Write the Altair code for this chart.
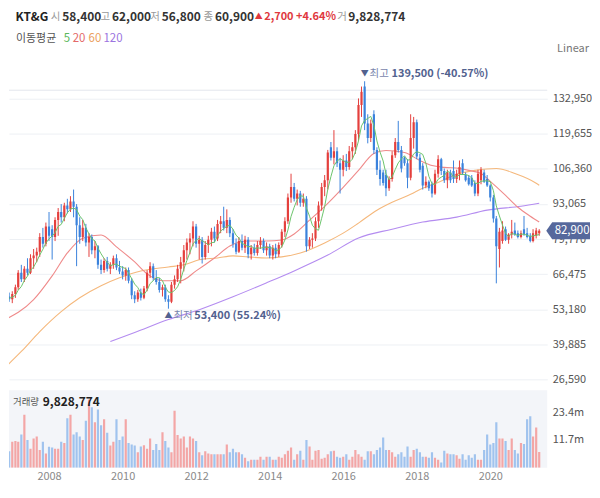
import altair as alt
import numpy as np
import pandas as pd

FONT = "Noto Sans CJK KR"
RED, BLUE = "#e4403d", "#3a82dc"
VRED, VBLUE = "#f3a6a6", "#a0c3ee"

# ---- monthly candles (thousand KRW), Oct 2006 .. May 2021
opens = [
    55.5, 60.0, 58.0,
    57.0, 59.0, 61.5, 67.0, 64.5, 68.5, 67.0, 72.5, 73.5, 75.0, 80.5, 78.0,
    84.5, 83.5, 80.5, 87.0, 90.0, 88.0, 92.5, 91.0, 94.0, 92.0, 85.0, 80.5,
    84.0, 78.5, 80.5, 75.5, 77.0, 70.0, 68.0, 71.5, 68.5, 70.0, 72.5, 69.0,
    67.5, 66.0, 68.0, 64.0, 58.5, 57.0, 59.5, 57.5, 61.0, 67.0, 69.5, 65.0,
    63.5, 60.5, 61.5, 57.0, 56.0, 62.5, 64.5, 68.5, 71.0, 75.5, 78.5, 80.0,
    84.5, 78.0, 79.5, 73.0, 77.5, 79.5, 82.5, 80.0, 85.5, 86.5, 84.0, 87.0,
    82.0, 78.0, 75.0, 79.0, 76.5, 79.5, 74.0, 76.5, 74.5, 77.5, 79.0, 75.5,
    77.0, 73.5, 76.5, 74.0, 77.5, 82.5, 86.5, 95.5, 99.5, 95.0, 97.0, 93.5,
    95.0, 77.0, 79.5, 80.0, 86.5, 92.5, 99.5, 102.0, 114.5, 110.5, 113.0, 108.5,
    106.0, 109.5, 107.0, 113.0, 114.5, 119.5, 130.5, 137.5, 123.5, 118.0, 127.0, 113.5,
    106.0, 105.0, 104.0, 99.0, 102.5, 111.5, 116.5, 113.5, 110.5, 108.5, 103.0, 118.0,
    124.0, 110.5, 107.5, 100.0, 101.5, 100.5, 97.0, 104.5, 110.0, 105.5, 102.0, 105.0,
    105.5, 102.5, 104.5, 108.5, 104.0, 103.0, 103.0, 101.0, 97.0, 102.0, 105.0, 102.5,
    100.0, 95.5, 87.5, 76.0, 79.0, 83.5, 79.5, 81.5, 83.0, 82.0, 80.5, 83.5,
    82.0, 81.0, 79.0, 81.0, 82.0,
]
highs = [
    58.5, 61.5, 59.5,
    60.0, 62.5, 68.0, 70.0, 69.5, 72.5, 74.0, 76.0, 76.5, 82.0, 84.0, 86.0,
    90.0, 85.0, 88.0, 91.5, 93.0, 93.5, 95.0, 96.0, 98.5, 93.0, 88.0, 87.0,
    85.5, 82.0, 81.5, 79.0, 77.5, 72.0, 72.5, 73.0, 71.0, 73.5, 74.0, 71.5,
    69.5, 69.0, 69.0, 65.0, 60.0, 60.5, 61.0, 62.0, 68.0, 71.0, 70.5, 68.0,
    65.0, 62.5, 62.5, 58.5, 63.5, 66.0, 70.0, 73.0, 77.5, 80.0, 82.0, 86.5,
    85.5, 81.0, 80.5, 79.0, 81.0, 84.0, 84.5, 87.0, 88.5, 92.0, 91.0, 88.0,
    83.5, 80.0, 80.5, 81.5, 81.0, 80.5, 77.5, 78.0, 79.0, 80.5, 80.0, 78.5,
    78.0, 77.5, 78.0, 78.5, 83.5, 88.0, 97.0, 104.5, 101.0, 98.5, 98.0, 97.0,
    96.0, 80.5, 82.0, 88.0, 94.0, 101.0, 104.0, 113.5, 116.5, 121.0, 114.5, 110.5,
    111.5, 112.0, 115.0, 116.5, 121.0, 133.0, 137.5, 139.5, 127.0, 125.0, 128.5, 114.5,
    109.5, 106.0, 106.0, 103.5, 113.0, 118.0, 124.5, 115.0, 111.0, 110.0, 127.0, 126.0,
    125.0, 112.0, 108.5, 103.5, 102.0, 101.5, 106.0, 111.5, 110.5, 106.5, 106.0, 106.0,
    109.5, 106.0, 109.5, 110.0, 105.0, 104.0, 104.0, 102.0, 106.0, 107.0, 106.0, 104.0,
    100.5, 96.5, 88.5, 84.0, 86.5, 84.5, 82.0, 87.0, 86.0, 83.0, 83.0, 88.5,
    84.0, 82.0, 83.5, 84.0, 83.5,
]
lows = [
    55.0, 56.5, 56.0,
    55.5, 57.5, 60.5, 63.5, 63.5, 66.0, 66.5, 68.5, 71.0, 73.0, 76.5, 77.0,
    79.0, 72.0, 79.0, 81.0, 86.0, 86.5, 89.5, 90.0, 88.0, 69.5, 78.0, 79.0,
    77.0, 73.0, 74.0, 72.5, 68.5, 66.5, 67.0, 67.5, 66.5, 68.5, 68.0, 66.5,
    64.5, 64.0, 63.0, 57.0, 55.5, 56.0, 56.5, 57.0, 60.0, 65.0, 64.0, 62.5,
    59.5, 58.0, 56.0, 53.4, 55.5, 61.0, 63.5, 63.0, 67.5, 72.0, 74.0, 77.0,
    76.5, 72.0, 70.5, 72.0, 74.5, 77.0, 78.5, 79.0, 82.0, 83.0, 82.0, 80.5,
    76.5, 74.0, 74.5, 75.5, 74.5, 72.5, 72.0, 73.5, 73.5, 76.0, 74.5, 73.5,
    72.5, 72.0, 72.5, 73.0, 76.5, 80.5, 85.5, 93.5, 94.0, 92.5, 92.0, 92.0,
    75.0, 76.0, 76.5, 79.0, 84.0, 90.5, 96.0, 98.5, 109.5, 108.0, 107.0, 97.0,
    103.5, 105.5, 106.0, 110.0, 112.0, 117.0, 126.0, 121.0, 116.0, 116.5, 112.0, 104.0,
    100.0, 100.0, 96.0, 98.0, 101.5, 110.5, 112.5, 105.0, 107.5, 99.0, 102.0, 114.0,
    110.0, 105.0, 98.5, 99.0, 98.0, 95.5, 96.5, 103.0, 104.0, 101.0, 99.0, 101.0,
    101.0, 101.0, 102.0, 104.0, 101.5, 100.0, 99.5, 96.0, 96.0, 100.5, 101.0, 99.5,
    94.0, 86.0, 63.0, 69.0, 78.0, 79.0, 78.0, 80.0, 81.0, 80.0, 80.0, 81.0,
    80.0, 78.5, 78.5, 80.0, 81.0,
]
closes = [
    57.5, 57.5, 57.0,
    59.0, 61.5, 67.0, 64.5, 68.5, 67.0, 72.5, 73.5, 75.0, 80.5, 78.0, 84.5,
    81.0, 80.5, 87.0, 90.0, 88.0, 92.5, 91.0, 94.0, 92.0, 85.0, 80.5, 84.0,
    78.5, 80.5, 75.5, 77.0, 70.0, 68.0, 71.5, 68.5, 70.0, 72.5, 69.0, 67.5,
    66.0, 68.0, 64.0, 58.5, 57.0, 59.5, 57.5, 61.0, 67.0, 69.5, 65.0, 63.5,
    60.5, 61.5, 57.0, 56.0, 62.5, 64.5, 68.5, 71.0, 75.5, 78.5, 80.0, 84.5,
    78.0, 79.5, 73.0, 77.5, 79.5, 82.5, 80.0, 85.5, 86.5, 84.0, 87.0, 82.0,
    78.0, 75.0, 79.0, 76.5, 79.5, 74.0, 76.5, 74.5, 77.5, 79.0, 75.5, 77.0,
    73.5, 76.5, 74.0, 77.5, 82.5, 86.5, 95.5, 99.5, 95.0, 97.0, 93.5, 95.0,
    77.0, 79.5, 80.0, 86.5, 92.5, 99.5, 102.0, 112.5, 110.5, 113.0, 108.5, 106.0,
    109.5, 107.0, 113.0, 114.5, 119.5, 130.5, 135.5, 123.5, 118.0, 123.5, 113.5, 106.0,
    102.5, 101.0, 99.0, 102.5, 111.5, 116.5, 113.5, 106.5, 108.5, 103.0, 118.0, 124.0,
    111.0, 106.0, 100.0, 101.5, 99.0, 97.0, 104.5, 110.0, 105.5, 102.0, 105.0, 102.0,
    102.5, 104.5, 107.0, 105.0, 102.0, 100.5, 100.0, 97.0, 104.5, 106.0, 101.5, 100.0,
    95.5, 87.5, 77.0, 82.5, 83.0, 79.5, 81.5, 82.5, 81.5, 80.5, 82.0, 81.5,
    80.5, 79.0, 82.0, 83.0, 82.9,
]
# monthly volume, millions of shares
volumes_m = [
    22.6, 11.0, 7.0,
    11.0, 11.3, 11.0, 14.0, 22.3, 11.7, 8.0, 12.3, 13.2, 7.5, 11.0, 6.0,
    8.9, 8.5, 8.0, 8.0, 11.0, 10.4, 20.8, 22.3, 14.0, 15.0, 13.2, 11.7,
    19.8, 28.7, 25.5, 19.2, 24.5, 17.9, 20.4, 14.7, 9.4, 11.0, 20.4, 11.7,
    13.2, 20.4, 10.4, 9.8, 9.4, 6.6, 9.0, 9.5, 8.0, 12.3, 7.5, 10.0,
    7.5, 15.0, 11.3, 8.5, 6.6, 24.0, 13.8, 12.3, 13.2, 8.5, 13.2, 12.3,
    11.3, 6.6, 5.3, 7.0, 6.0, 5.7, 5.7, 5.7, 5.7, 5.7, 9.8, 6.6,
    8.0, 6.6, 6.6, 5.7, 4.2, 2.8, 3.4, 3.4, 3.4, 4.7, 3.4, 4.7,
    4.7, 3.4, 3.4, 4.7, 4.2, 5.7, 7.2, 8.5, 3.4, 5.7, 7.2, 3.4,
    11.7, 9.0, 3.4, 7.2, 7.5, 3.8, 4.2, 5.7, 7.0, 7.2, 4.7, 4.2,
    4.7, 5.7, 3.4, 4.7, 7.5, 5.7, 4.7, 3.4, 7.0, 7.0, 5.7, 7.5,
    8.5, 12.8, 7.5, 7.5, 6.6, 4.7, 5.7, 6.6, 4.7, 9.0, 4.7, 7.5,
    8.0, 6.6, 4.7, 4.7, 4.2, 6.6, 4.2, 3.4, 2.3, 7.2, 6.0, 5.7,
    5.7, 5.3, 3.8, 5.7, 3.4, 5.3, 4.2, 5.7, 3.4, 3.4, 7.5, 14.0,
    9.8, 10.4, 19.2, 12.3, 12.3, 11.3, 7.5, 12.3, 7.5, 6.0, 10.4, 10.0,
    20.4, 21.7, 13.2, 17.0, 6.7,
]

# ---- moving averages (KRW)
ma20_months = ["2006-10", "2007-08", "2008-02", "2008-07", "2008-12", "2009-06", "2009-11",
               "2010-05", "2010-09", "2011-02", "2011-08", "2012-01", "2012-07", "2012-12",
               "2013-06", "2013-12", "2014-05", "2014-09", "2015-02", "2015-08", "2016-01",
               "2016-06", "2016-11", "2017-03", "2017-09", "2018-02", "2018-06", "2018-10",
               "2019-03", "2019-06", "2019-10", "2020-01", "2020-06", "2020-10", "2021-02", "2021-05"]
ma20_values = [48900, 56800, 65800, 74500, 80100, 81300, 76800,
               71100, 66600, 64000, 64000, 67700, 72600, 77100,
               79000, 79000, 79400, 81700, 86900, 93300, 99350,
               105750, 112150, 113300, 112500, 109500, 107600, 106900,
               106500, 105750, 104600, 101600, 96300, 91800, 88400, 86200]
ma60_months = ["2006-10", "2007-04", "2007-10", "2008-05", "2008-11", "2009-06", "2009-12",
               "2010-07", "2011-04", "2011-09", "2012-02", "2012-08", "2013-01", "2013-06",
               "2013-12", "2014-05", "2014-11", "2015-07", "2016-01", "2016-06", "2016-12",
               "2017-05", "2017-11", "2018-03", "2018-08", "2019-02", "2019-08", "2020-03",
               "2020-09", "2021-04", "2021-05"]
ma60_values = [30400, 37200, 44750, 52300, 57550, 62100, 65100,
               67700, 69200, 70000, 71900, 72600, 73400, 73000,
               72600, 73000, 74500, 78300, 82000, 85800, 90700,
               93700, 96700, 99000, 101200, 104250, 105750, 106500,
               104600, 100900, 100100]
ma120_months = ["2009-09", "2010-05", "2011-04", "2012-02", "2013-01", "2013-12", "2014-09",
                "2015-08", "2016-06", "2017-05", "2018-03", "2019-02", "2019-12", "2020-11", "2021-05"]
ma120_values = [41000, 44400, 49300, 53000, 57900, 63200, 67700,
                73700, 80150, 83500, 86200, 88050, 90700, 92200, 93300]

y_ticks = [26590, 39885, 53180, 66475, 79770, 93065, 106360, 119655, 132950]
vol_ticks_m = [11.7, 23.4]
year_ticks = [2008, 2010, 2012, 2014, 2016, 2018, 2020]
last_price = 82900

# ---- frames
months = pd.date_range("2006-10-01", periods=len(closes), freq="MS")
df = pd.DataFrame({
    "date": months.strftime("%Y-%m-%d"),
    "open": np.round(np.array(opens) * 1000),
    "high": np.round(np.array(highs) * 1000),
    "low": np.round(np.array(lows) * 1000),
    "close": np.round(np.array(closes) * 1000),
    "vol": np.array(volumes_m) * 1e6,
})
df["dir"] = np.where(df["close"] >= df["open"], "up", "down")
df["vdir"] = df["dir"]
df["ma5"] = df["close"].rolling(5, min_periods=1).mean()


def ma_frame(ms_, vals):
    return pd.DataFrame({"date": [m + "-01" for m in ms_], "v": vals})


def ms(ts):
    return int(pd.Timestamp(ts).tz_localize("UTC").timestamp() * 1000)


W, HP, HV = 541, 331, 78
PX_PER_VAL = 1 / 376.63          # pixels per won on the price axis
PX_PER_M = 28 / 11.7             # pixels per million shares
PX_PER_DAY = 3.08 / 30.4375
x0 = pd.Timestamp("2006-12-01") - pd.Timedelta(days=1.6)
x1 = x0 + pd.Timedelta(days=W / PX_PER_DAY)
x_scale = alt.Scale(type="utc", domain=[ms(x0), ms(x1)])
px = alt.X("date:T", scale=x_scale, axis=None)
ref_val, ref_px = 79770, 181       # 79,770 gridline sits 181px below the plot top
py_top = ref_val + ref_px / PX_PER_VAL
py_bot = ref_val - (HP - ref_px) / PX_PER_VAL
py_scale = alt.Scale(domain=[py_bot, py_top], nice=False, zero=False)

price_axis = alt.Axis(orient="right", values=y_ticks, labelExpr="format(datum.value, ',')",
                      ticks=False, domain=False, grid=True, gridColor="#edf0f4",
                      labelColor="#555", labelFontSize=11, labelPadding=5, title=None)
cenc = alt.Color("dir:N", scale=alt.Scale(domain=["up", "down"], range=[RED, BLUE]), legend=None)


def Y(field):
    return alt.Y(field, scale=py_scale, axis=price_axis, title=None)


def label(text, x, y, color, size=12, weight="normal", align="left"):
    return alt.Chart(pd.DataFrame({"t": [text]})).mark_text(
        align=align, baseline="middle", fontSize=size, fontWeight=weight, color=color
    ).encode(x=alt.value(x), y=alt.value(y), text="t:N")


# invisible spacer that reserves the header band above the price pane
spacer = alt.Chart(pd.DataFrame({"a": [0]})).mark_rule(opacity=0, strokeWidth=0.5).encode(
    x=alt.value(0), x2=alt.value(10), y=alt.value(-50))

top_rule = alt.Chart(pd.DataFrame({"v": [136100]})).mark_rule(color="#e3e6ec").encode(y=Y("v:Q"))
wick = alt.Chart(df).mark_rule(strokeWidth=1, clip=True).encode(
    x=px, y=Y("low:Q"), y2="high:Q", color=cenc)
body = alt.Chart(df).mark_rule(strokeWidth=2.2, clip=True).encode(
    x=px, y=Y("open:Q"), y2="close:Q", color=cenc)


def ma_line(frame, colr):
    return alt.Chart(frame).mark_line(color=colr, strokeWidth=1.1, clip=True,
                                      interpolate="monotone").encode(x=px, y=Y("v:Q"))


ma5 = alt.Chart(df).mark_line(color="#6cc46c", strokeWidth=1, clip=True).encode(x=px, y=Y("ma5:Q"))
ma20 = ma_line(ma_frame(ma20_months, ma20_values), "#ef8a8a")
ma60 = ma_line(ma_frame(ma60_months, ma60_values), "#f5b87c")
ma120 = ma_line(ma_frame(ma120_months, ma120_values), "#b48cf0")

hi = df.loc[df["high"].idxmax()]
lo = df.loc[df["low"].idxmin()]
hi_df = pd.DataFrame({"date": [hi["date"]], "v": [hi["high"]],
                      "n": [f"{int(hi['high']):,} ({(last_price - hi['high']) / hi['high'] * 100:.2f}%)"]})
lo_df = pd.DataFrame({"date": [lo["date"]], "v": [lo["low"]],
                      "n": [f"{int(lo['low']):,} ({(last_price - lo['low']) / lo['low'] * 100:.2f}%)"]})
SLATE, SLATE2 = "#7a86ad", "#52628f"


def ann(frame, text, dx, dy, colr, size, weight="normal", align="left", field=False):
    m = alt.Chart(frame).mark_text(align=align, baseline="middle", dx=dx, dy=dy, color=colr,
                                   fontSize=size, fontWeight=weight)
    return m.encode(x=px, y=Y("v:Q"), text=("n:N" if field else alt.value(text)))


ann_layers = [
    ann(hi_df, "▼", 0, -7, SLATE2, 8, align="center"),
    ann(hi_df, "최고", 5, -7, SLATE, 10.5),
    ann(hi_df, "", 27, -7, SLATE2, 11, "bold", field=True),
    ann(lo_df, "▲", 0, 7, SLATE2, 8, align="center"),
    ann(lo_df, "최저", 5, 7, SLATE, 10.5),
    ann(lo_df, "", 26, 7, SLATE2, 11, "bold", field=True),
]

# current-price tag: a left-pointing label box (path units = 10px at size 400)
TAG_PATH = "M-2.2,0L-1.6,-0.85L2.2,-0.85L2.2,0.85L-1.6,0.85Z"
tag_df = pd.DataFrame({"v": [last_price], "t": [f"{last_price:,}"]})
tag = alt.Chart(tag_df).mark_point(shape=TAG_PATH, size=400, filled=True, color="#56689c",
                                   opacity=1, strokeWidth=0).encode(x=alt.value(W + 21), y=Y("v:Q"))
tag_txt = alt.Chart(tag_df).mark_text(color="white", fontSize=11.5, align="center",
                                      baseline="middle").encode(x=alt.value(W + 25), y=Y("v:Q"), text="t:N")

GR, DK, RD = "#9a9a9a", "#333333", "#e0393e"
R1, R2 = -42, -20
header = [
    label("KT&G", 6.6, R1, "#222222", 12, "bold"),
    label("시", 42, R1, GR, 10.5), label("58,400", 53.5, R1, DK, 12, "bold"),
    label("고", 92, R1, GR, 10.5), label("62,000", 103.5, R1, DK, 12, "bold"),
    label("저", 142, R1, GR, 10.5), label("56,800", 153.5, R1, DK, 12, "bold"),
    label("종", 195.5, R1, GR, 10.5), label("60,900", 207, R1, DK, 12, "bold"),
    label("▲", 247, R1, RD, 8), label("2,700 +4.64%", 256.5, R1, RD, 11, "bold"),
    label("거", 330, R1, GR, 10.5), label("9,828,774", 341, R1, DK, 12, "bold"),
    label("이동평균", 7, R2, "#555555", 11),
    label("5", 55, R2, "#5cb85c", 11.5), label("20", 64, R2, "#e46a6a", 11.5),
    label("60", 80, R2, "#eba060", 11.5), label("120", 95, R2, "#9c74e0", 11.5),
    label("Linear", W + 42, -10, "#777777", 11, align="right"),
]

price = alt.layer(spacer, top_rule, ma120, ma60, ma20, wick, body, ma5, *ann_layers, tag, tag_txt,
                  *header).properties(width=W, height=HP)

# ---- volume panel
x_axis = alt.Axis(values=[ms(f"{y}-01-01") for y in year_ticks],
                  labelExpr="utcFormat(datum.value, '%Y')", ticks=False, domain=False,
                  grid=False, labelColor="#8a8a8a", labelFontSize=11, labelPadding=3,
                  title=None, labelFlush=False)
vol_axis = alt.Axis(orient="right", values=[v * 1e6 for v in vol_ticks_m],
                    labelExpr="format(datum.value / 1000000, '.1f') + 'm'", ticks=False,
                    domain=False, grid=False, labelColor="#555", labelFontSize=11,
                    labelPadding=5, title=None)
vbars = alt.Chart(df).mark_rule(strokeWidth=2.2, clip=True).encode(
    x=alt.X("date:T", scale=x_scale, axis=x_axis),
    y=alt.Y("vol:Q", scale=alt.Scale(domain=[0, HV / PX_PER_M * 1e6], nice=False), axis=vol_axis),
    y2=alt.datum(0),
    color=alt.Color("vdir:N", scale=alt.Scale(domain=["up", "down"], range=[VRED, VBLUE]), legend=None),
)
volume = alt.layer(
    vbars,
    label("거래량", 4, 12, "#555555", 9.5),
    label("9,828,774", 34, 12, "#222222", 12, "bold"),
).properties(width=W, height=HV, view=alt.ViewBackground(fill="#f3f5f9", stroke=None))

chart = alt.vconcat(price, volume, spacing=2).resolve_scale(color="independent").properties(
    padding={"left": 0, "top": 0, "right": 0, "bottom": 0}
).configure(font=FONT).configure_view(stroke=None)

chart.save("out.html", embed_options={"renderer": "svg", "actions": False})
